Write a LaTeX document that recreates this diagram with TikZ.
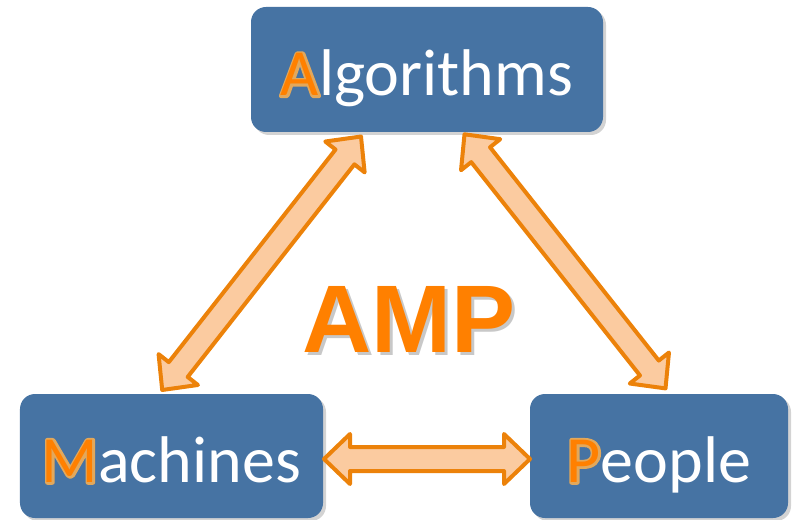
\documentclass[tikz,border=0pt]{standalone}
\usepackage{fontspec}
\usetikzlibrary{calc,shadows}
\newfontfamily\boxfont{Carlito}
\newfontfamily\ampfont{Liberation Sans}
\definecolor{boxblue}{RGB}{70,115,163}
\definecolor{arrowor}{RGB}{236,130,10}
\definecolor{arrowfill}{RGB}{251,203,160}
\definecolor{ampor}{RGB}{255,128,0}
\definecolor{ampshadow}{RGB}{200,200,200}
\definecolor{glowc}{RGB}{226,168,92}
\newcommand\glowlet[1]{\makebox[0pt][l]{\textcolor{glowc}{\special{pdf:literal direct 2 Tr 4.5 w 1 j 0.886 0.659 0.361 RG}#1\special{pdf:literal direct 0 Tr 0.4 w 0 j}}}\textcolor{ampor}{#1}}
\newcommand\fatarrow[2]{%
 \draw[fatarr] (#1)
 -- ($ ($(#1)!26bp!(#2)$) !25bp!90:(#2) $)
 -- ($ ($(#1)!26bp!(#2)$) !12bp!90:(#2) $)
 -- ($ ($(#2)!26bp!(#1)$) !12bp!-90:(#1) $)
 -- ($ ($(#2)!26bp!(#1)$) !25bp!-90:(#1) $)
 -- (#2)
 -- ($ ($(#2)!26bp!(#1)$) !25bp!90:(#1) $)
 -- ($ ($(#2)!26bp!(#1)$) !12bp!90:(#1) $)
 -- ($ ($(#1)!26bp!(#2)$) !12bp!-90:(#2) $)
 -- ($ ($(#1)!26bp!(#2)$) !25bp!-90:(#2) $)
 -- cycle;}
\tikzset{
 bluebox/.style={fill=boxblue, rounded corners=15bp, inner sep=0pt,
   drop shadow={opacity=0.35, shadow xshift=3bp, shadow yshift=-3bp},
   text=white, font=\boxfont\fontsize{66bp}{70bp}\selectfont,
   text height=53bp, text depth=0bp},
 fatarr/.style={draw=arrowor, fill=arrowfill, line width=4bp, line join=round}
}
\begin{document}
\begin{tikzpicture}[x=1bp,y=-1bp]
\useasboundingbox (0,0) rectangle (798,520);
\node[bluebox, minimum width=352bp, minimum height=125bp] (alg) at (427,69.5) {\glowlet{A}lgorithms};
\node[bluebox, minimum width=303bp, minimum height=124bp] (mach) at (171.5,456) {\glowlet{M}achines};
\node[bluebox, minimum width=258bp, minimum height=124bp] (peop) at (659,456) {\glowlet{P}eople};
\coordinate (am1) at (361,136.5);
\coordinate (am2) at (162.2,390);
\coordinate (ap1) at (464.5,134.3);
\coordinate (ap2) at (665.5,388.4);
\coordinate (mp1) at (324,459);
\coordinate (mp2) at (530,459);
\fatarrow{am1}{am2}
\fatarrow{ap1}{ap2}
\fatarrow{mp1}{mp2}
\node[anchor=base, text=ampor, font=\ampfont\bfseries\fontsize{96bp}{100bp}\selectfont, inner sep=0pt] (amp) at (409,352) {\makebox[0pt][l]{\hspace*{3bp}\raisebox{-3bp}{\textcolor{ampshadow}{AMP}}}AMP};
\end{tikzpicture}
\end{document}
